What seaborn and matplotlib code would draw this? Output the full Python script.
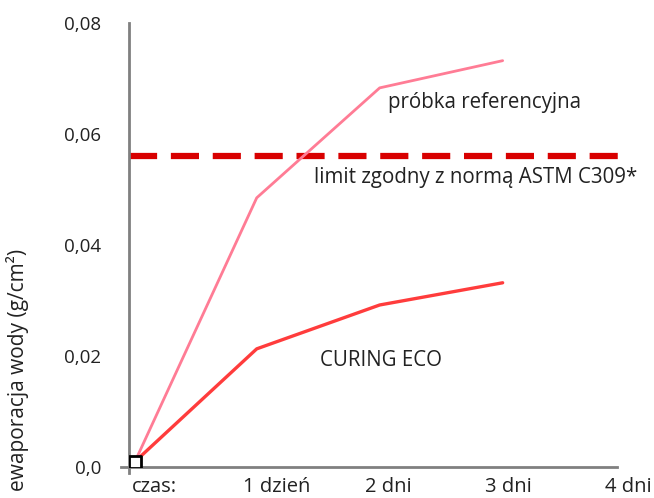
import numpy as np
import pandas as pd
import matplotlib
matplotlib.use('Agg')
import matplotlib.pyplot as plt
import seaborn as sns

# dane
dni = [0.01, 1, 2, 3]
referencyjna = [0.001, 0.0485, 0.0683, 0.0732]
curing_eco = [0.001, 0.0213, 0.0292, 0.0332]
limit_astm = 0.056

y_ticks = [0.0, 0.02, 0.04, 0.06, 0.08]
y_labels = ['0,0', '0,02', '0,04', '0,06', '0,08']
x_labels = ['czas:', '1 dzień', '2 dni', '3 dni', '4 dni']
x_label_pos = [0.17, 1.16, 2.07, 3.05, 4.02]
x_tick_pos = [-0.03, 0.44, 0.94, 1.45, 1.96, 2.45, 2.95, 3.45, 3.93]

sns.set_style('white')
plt.rcParams['font.family'] = ['Open Sans', 'DejaVu Sans']

df = pd.DataFrame({
    'dzien': dni * 2,
    'ewap': referencyjna + curing_eco,
    'seria': ['ref'] * len(dni) + ['eco'] * len(dni),
})

fig = plt.figure(figsize=(6.54, 4.98), dpi=100)
ax = fig.add_axes([0.197, 0.062, 0.769, 0.892])

sns.lineplot(data=df, x='dzien', y='ewap', hue='seria',
             palette={'ref': '#ff7c95', 'eco': '#ff3c3c'}, legend=False, ax=ax)
for ln, lw in zip(ax.get_lines(), [2.0, 2.4]):
    ln.set_linewidth(lw)

ax.axhline(limit_astm, xmin=0.0, xmax=0.995, color='#d80000', lw=4.5,
           dashes=(4.5, 2.2), zorder=1)

ax.scatter([dni[0]], [referencyjna[0]], marker='s', s=70, facecolor='white',
           edgecolor='black', linewidth=2, zorder=5)

ax.set_xlim(-0.04, 4.05)
ax.set_ylim(0, 0.08)

sns.despine(ax=ax)
for s in ['left', 'bottom']:
    ax.spines[s].set_color('#808080')
    ax.spines[s].set_linewidth(2)
ax.spines['bottom'].set_bounds(-0.1, 3.93)
ax.spines['left'].set_bounds(-0.001, 0.08)

ax.set_yticks(y_ticks, y_labels)
ax.set_yticks(np.arange(0.01, 0.08, 0.02), minor=True)
ax.set_xticks(x_tick_pos, [''] * len(x_tick_pos))
ax.set_xticks(x_label_pos, x_labels, minor=True)

ax.tick_params(axis='y', which='major', direction='out', length=7, width=2,
               color='#808080', labelsize=13.5, labelcolor='#222222', pad=13)
ax.tick_params(axis='y', which='minor', direction='out', length=3, width=2,
               color='#808080')
ax.tick_params(axis='x', which='major', direction='out', length=5, width=2,
               color='#808080')
ax.tick_params(axis='x', which='minor', length=0, labelsize=14.5,
               labelcolor='#222222', pad=7)

ax.set_xlabel('')
ax.set_ylabel('')
fig.text(0.026, 0.257, 'ewaporacja wody (g/cm²)', rotation=90, va='center',
         ha='center', fontsize=15, color='#222222')

ax.text(2.85, 0.0657, 'próbka referencyjna', fontsize=14.8, color='#222222',
        ha='center', va='center')
ax.text(2.78, 0.0522, 'limit zgodny z normą ASTM C309*', fontsize=14.8,
        color='#222222', ha='center', va='center')
ax.text(2.01, 0.0192, 'CURING ECO', fontsize=14.8, color='#222222',
        ha='center', va='center')

fig.savefig('out.png', dpi=100)
